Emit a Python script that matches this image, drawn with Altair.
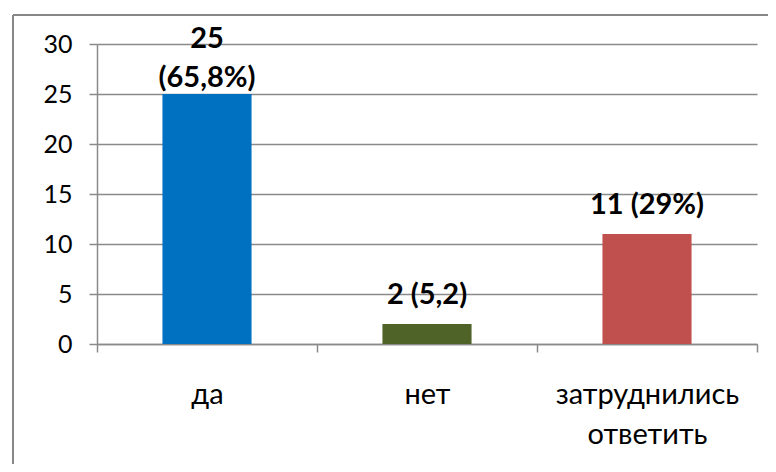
import altair as alt
import pandas as pd

categories = ["да", "нет", "затруднились ответить"]
values = [25, 2, 11]
labels = ["25\n(65,8%)", "2 (5,2)", "11 (29%)"]
colors = ["#0070C0", "#4F6228", "#C0504D"]
y_ticks = [0, 5, 10, 15, 20, 25, 30]

df = pd.DataFrame({"cat": categories, "val": values, "lab": labels, "col": colors})

GRID = "#8a8a8a"
FONT = "Lato"

x_enc = alt.X(
    "cat:N",
    sort=categories,
    scale=alt.Scale(paddingInner=0, paddingOuter=0),
    axis=alt.Axis(
        title=None, labelAngle=0, tickBand="extent",
        labelExpr="split(datum.label, ' ')",
        labelFont=FONT, labelFontSize=29, labelColor="black", labelLimit=400,
        labelLineHeight=40, labelBaseline="top", labelPadding=28,
        domainColor=GRID, domainWidth=1.5, tickColor=GRID, tickWidth=1.5, tickSize=8,
    ),
)
y_enc = alt.Y(
    "val:Q",
    scale=alt.Scale(domain=[0, 30], nice=False),
    axis=alt.Axis(
        title=None, values=y_ticks, grid=True, gridColor=GRID, gridWidth=1.5,
        labelFont=FONT, labelFontSize=25, labelColor="black", labelPadding=17,
        domainColor=GRID, domainWidth=1.5, tickColor=GRID, tickWidth=1.5, tickSize=8,
    ),
)

bars = alt.Chart(df).mark_bar(width=alt.RelativeBandSize(0.405)).encode(
    x=x_enc, y=y_enc, color=alt.Color("col:N", scale=None)
)

text_single = alt.Chart(df).transform_filter(
    "indexof(datum.lab, '\\n') < 0"
).mark_text(
    font=FONT, fontSize=29, fontWeight="bold", color="black",
    baseline="alphabetic", dy=-20,
).encode(x=alt.X("cat:N", sort=categories), y="val:Q", text="lab:N")

text_multi = alt.Chart(df).transform_filter(
    "indexof(datum.lab, '\\n') >= 0"
).mark_text(
    font=FONT, fontSize=29, fontWeight="bold", color="black",
    baseline="alphabetic", lineBreak="\n", lineHeight=39, dy=-46,
).encode(x=alt.X("cat:N", sort=categories), y="val:Q", text="lab:N")

frame_left = alt.Chart(df).mark_rule(color="#878787", strokeWidth=2).encode(
    x=alt.value(-84), y=alt.value(-29), y2=alt.value(600)
)
frame_top = alt.Chart(df).mark_rule(color="#878787", strokeWidth=2).encode(
    x=alt.value(-84), x2=alt.value(900), y=alt.value(-29)
)

chart = alt.layer(frame_left, frame_top, bars, text_single, text_multi).properties(
    width=660, height=300,
    autosize=alt.AutoSizeParams(type="none"),
    padding={"left": 89, "top": 36, "right": 11, "bottom": 120},
    background="white",
).configure_view(stroke=None)

chart.save("out.html", embed_options={"renderer": "svg", "actions": False})
